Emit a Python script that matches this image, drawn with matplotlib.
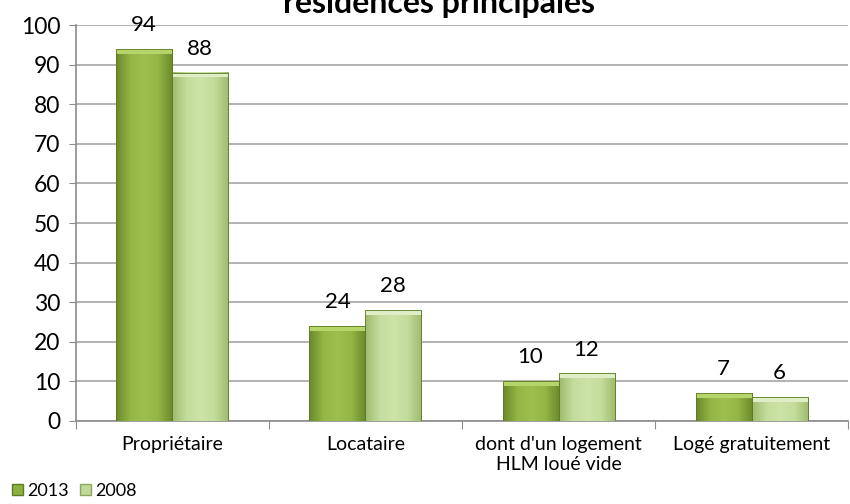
import numpy as np
import matplotlib.pyplot as plt
from matplotlib.patches import Rectangle
from matplotlib.colors import LinearSegmentedColormap

plt.rcParams['font.family'] = ['Lato', 'DejaVu Sans']

categories = ['Propriétaire', 'Locataire', "dont d'un logement\nHLM loué vide", 'Logé gratuitement']
v2013 = [94, 24, 10, 7]
v2008 = [88, 28, 12, 6]
series = ['2013', '2008']

fig = plt.figure(figsize=(8.5, 5.04), dpi=100)
ax = fig.add_axes([0.089, 0.165, 0.909, 0.785])

x = np.arange(len(categories))
w = 0.29

# couleurs degradees (bord sombre, centre clair)
cmap13 = LinearSegmentedColormap.from_list('c13', ['#6a8a2a', '#93b646', '#9cbf4e', '#93b646', '#6a8a2a'])
cmap08 = LinearSegmentedColormap.from_list('c08', ['#9fbb6e', '#c4dc9c', '#cde3a8', '#c4dc9c', '#9fbb6e'])
grad = np.linspace(0, 1, 64).reshape(1, -1)

def draw_bars(xs, vals, cmap, top_col):
    for xi, v in zip(xs, vals):
        ax.imshow(grad, cmap=cmap, extent=[xi - w / 2, xi + w / 2, 0, v], aspect='auto', zorder=3)
        ax.add_patch(Rectangle((xi - w / 2, v - 1.2), w, 1.2, color=top_col, zorder=4, lw=0))
        ax.add_patch(Rectangle((xi - w / 2, 0), w, v, fill=False, ec='#5d7a24', lw=0.6, zorder=5))
        ax.text(xi, v + 3.5, str(v), ha='center', va='bottom', fontsize=16, zorder=6)

draw_bars(x - w / 2, v2013, cmap13, '#b5d46a')
draw_bars(x + w / 2, v2008, cmap08, '#e0eec8')

ax.set_xlim(-0.5, len(categories) - 0.5)
ax.set_ylim(0, 100)
ax.set_yticks(range(0, 101, 10))
ax.tick_params(axis='y', labelsize=16.5, length=5, color='#8c8c8c', pad=6)
ax.set_xticks(np.arange(-0.5, len(categories), 1.0))
ax.set_xticklabels([])
ax.set_xticks(x, minor=True)
ax.set_xticklabels(categories, minor=True, fontsize=14)
ax.tick_params(axis='x', which='major', length=6, color='#8c8c8c', direction='out')
ax.tick_params(axis='x', which='minor', length=0, pad=11)
ax.grid(axis='y', color='#a6a6a6', lw=1.2, zorder=0)
for s in ['top', 'right']:
    ax.spines[s].set_visible(False)
ax.spines['left'].set_color('#8c8c8c')
ax.spines['bottom'].set_color('#8c8c8c')
ax.spines['left'].set_linewidth(1.2)
ax.spines['bottom'].set_linewidth(1.2)

fig.text(0.516, 0.974, 'résidences principales', ha='center', va='baseline',
         fontsize=23, fontweight='bold')

# legende
h1 = Rectangle((0, 0), 1, 1, fc='#8db040', ec='#5d7a24')
h2 = Rectangle((0, 0), 1, 1, fc='#c3d99a', ec='#8aa85a')
fig.legend([h1, h2], series, loc='lower left', bbox_to_anchor=(-0.005, -0.022), ncol=2,
           frameon=False, fontsize=13, handlelength=0.6, handleheight=0.6,
           handletextpad=0.25, columnspacing=0.6)

plt.savefig('out.png')
